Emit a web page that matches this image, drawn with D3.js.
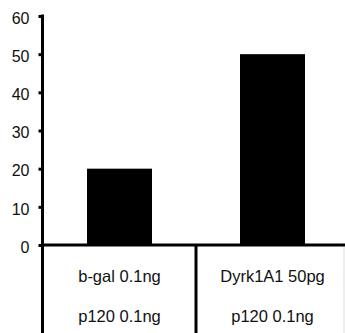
<!DOCTYPE html>
<html><head><meta charset="utf-8">
<script src="https://cdn.jsdelivr.net/npm/d3@7"></script>
<style>body{margin:0;background:#fff}svg{display:block}text{font-family:"Liberation Sans",Arial,sans-serif;fill:#111}</style>
</head><body><svg id="c" width="345" height="333"></svg>
<script>
const categories = ["b-gal 0.1ng | p120 0.1ng", "Dyrk1A1 50pg | p120 0.1ng"];
const line1 = ["b-gal 0.1ng", "Dyrk1A1 50pg"];
const line2 = ["p120 0.1ng", "p120 0.1ng"];
const values = [20, 50];
const yTicks = [0, 10, 20, 30, 40, 50, 60];

const svg = d3.select("#c");
const x = d3.scaleBand().domain(categories).range([43, 349]).padding(0);
const y = d3.scaleLinear().domain([0, 60]).range([245, 16]);
const barW = 65;

// bars
svg.selectAll("rect.bar").data(values).join("rect")
  .attr("class", "bar")
  .attr("x", (d, i) => x(categories[i]) + (x.bandwidth() - barW) / 2)
  .attr("width", barW)
  .attr("y", d => y(d))
  .attr("height", d => y(0) - y(d))
  .attr("fill", "#000");

// y axis
const ya = svg.append("g").attr("transform", "translate(42.5,0)")
  .call(d3.axisLeft(y).tickValues(yTicks).tickSize(4).tickPadding(9).tickFormat(d3.format("d")));
ya.select(".domain").remove();
ya.selectAll(".tick line").attr("stroke", "#000").attr("stroke-width", 3);
ya.selectAll(".tick text").attr("font-size", 16).attr("dy", "0.45em").style("fill", "#111");
svg.append("line").attr("x1", 42.5).attr("x2", 42.5).attr("y1", y(60) - 1.5).attr("y2", 333)
  .attr("stroke", "#000").attr("stroke-width", 3);

// x axis line
svg.append("line").attr("x1", 42).attr("x2", 345).attr("y1", y(0)).attr("y2", y(0))
  .attr("stroke", "#000").attr("stroke-width", 3);

// dividers
svg.append("line").attr("x1", x(categories[1])).attr("x2", x(categories[1]))
  .attr("y1", y(0)).attr("y2", 333).attr("stroke", "#000").attr("stroke-width", 3);
svg.append("line").attr("x1", 344).attr("x2", 344)
  .attr("y1", y(0) + 2).attr("y2", 333).attr("stroke", "#ddd").attr("stroke-width", 1);

// labels
svg.selectAll("text.l1").data(line1).join("text").attr("class", "l1")
  .attr("x", (d, i) => x(categories[i]) + x.bandwidth() / 2).attr("y", 282)
  .attr("text-anchor", "middle").attr("font-size", 16.5).text(d => d);
svg.selectAll("text.l2").data(line2).join("text").attr("class", "l2")
  .attr("x", (d, i) => x(categories[i]) + x.bandwidth() / 2).attr("y", 322)
  .attr("text-anchor", "middle").attr("font-size", 16.5).text(d => d);
</script></body></html>
